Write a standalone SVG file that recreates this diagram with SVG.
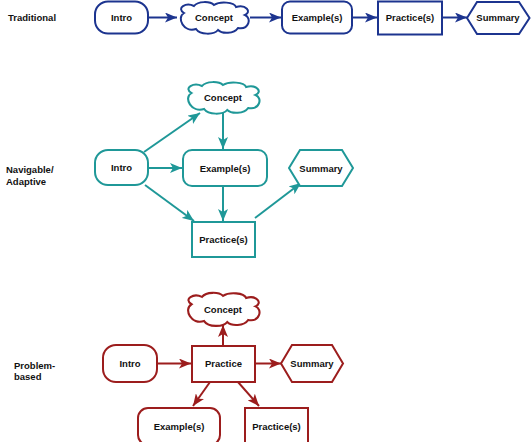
<svg xmlns="http://www.w3.org/2000/svg" width="531" height="442" viewBox="0 0 531 442">
<style>
text{font-family:"Liberation Sans",Arial,sans-serif;font-weight:bold;font-size:9.5px;fill:#111}
.c{text-anchor:middle}
.b{fill:#fff;stroke:#1c348f;stroke-width:2}
.t{fill:#fff;stroke:#1f9898;stroke-width:2}
.r{fill:#fff;stroke:#9c1d1d;stroke-width:2}
.lb{stroke:#1c348f;stroke-width:2;fill:none;marker-end:url(#ab)}
.lt{stroke:#1f9898;stroke-width:2;fill:none;marker-end:url(#at)}
.lr{stroke:#9c1d1d;stroke-width:2;fill:none;marker-end:url(#ar)}
</style>
<defs>
<marker id="ab" markerUnits="userSpaceOnUse" markerWidth="12" markerHeight="10" refX="12" refY="5" orient="auto"><path d="M0,0 L12,5 L0,10 L3,5 Z" fill="#1c348f"/></marker>
<marker id="at" markerUnits="userSpaceOnUse" markerWidth="12" markerHeight="10" refX="12" refY="5" orient="auto"><path d="M0,0 L12,5 L0,10 L3,5 Z" fill="#1f9898"/></marker>
<marker id="ar" markerUnits="userSpaceOnUse" markerWidth="12" markerHeight="10" refX="12" refY="5" orient="auto"><path d="M0,0 L12,5 L0,10 L3,5 Z" fill="#9c1d1d"/></marker>
<path id="cloud" d="M-30,-5 C-38,-10 -28,-16 -20,-12 C-16,-17 -4,-17 0,-13 C6,-17 20,-16 22,-11 C32,-14 38,-6 31,-3 C38,0 35,12 24,10 C20,16 8,16 4,12 C0,17 -14,17 -18,11 C-30,15 -38,0 -30,-5 Z"/>
</defs>

<g id="labels">
<text x="8" y="20.5">Traditional</text>
<text x="6" y="172.5">Navigable/</text>
<text x="6" y="184.5">Adaptive</text>
<text x="14" y="368.5">Problem-</text>
<text x="14" y="380">based</text>
</g>

<g id="connectors">
<line class="lb" x1="148" y1="17.5" x2="177" y2="17.5"/>
<line class="lb" x1="250" y1="17.5" x2="281" y2="17.5"/>
<line class="lb" x1="352" y1="17.5" x2="377" y2="17.5"/>
<line class="lb" x1="442" y1="17.5" x2="467" y2="17.5"/>

<line class="lt" x1="144" y1="152" x2="200" y2="113"/>
<line class="lt" x1="223" y1="113" x2="223" y2="149"/>
<line class="lt" x1="148" y1="168" x2="182" y2="168"/>
<line class="lt" x1="145" y1="185" x2="194" y2="221"/>
<line class="lt" x1="223" y1="187" x2="223" y2="221"/>
<line class="lt" x1="255" y1="218" x2="301" y2="183"/>

<line class="lr" x1="223" y1="346" x2="223" y2="325"/>
<line class="lr" x1="157" y1="363.5" x2="191" y2="363.5"/>
<line class="lr" x1="255" y1="363.5" x2="281" y2="363.5"/>
<line class="lr" x1="210" y1="382" x2="193" y2="406"/>
<line class="lr" x1="238" y1="382" x2="259" y2="406"/>
</g>

<g id="trad-intro"><rect class="b" x="95" y="1.5" width="53" height="32" rx="13"/><text class="c" x="121.5" y="21">Intro</text></g>
<g id="trad-concept"><use href="#cloud" class="b" transform="translate(214,18)"/><text class="c" x="214" y="21">Concept</text></g>
<g id="trad-examples"><rect class="b" x="282" y="1.5" width="70" height="32" rx="8"/><text class="c" x="317" y="21">Example(s)</text></g>
<g id="trad-practices"><rect class="b" x="378" y="1.5" width="64" height="33"/><text class="c" x="410" y="21">Practice(s)</text></g>
<g id="trad-summary"><polygon class="b" points="467,18 477,2 519,2 529.5,18 519,34 477,34"/><text class="c" x="498" y="21">Summary</text></g>

<g id="nav-concept"><use href="#cloud" class="t" transform="translate(223,98) scale(1.05,1)"/><text class="c" x="223" y="101">Concept</text></g>
<g id="nav-intro"><rect class="t" x="95" y="150" width="53" height="35" rx="13"/><text class="c" x="121.5" y="171">Intro</text></g>
<g id="nav-examples"><rect class="t" x="183" y="150" width="84" height="36" rx="9"/><text class="c" x="225" y="171.5">Example(s)</text></g>
<g id="nav-practices"><rect class="t" x="192" y="222" width="63" height="35"/><text class="c" x="223.5" y="243">Practice(s)</text></g>
<g id="nav-summary"><polygon class="t" points="289,168 300,150 342,150 353,168 342,186 300,186"/><text class="c" x="321" y="171.5">Summary</text></g>

<g id="pb-concept"><use href="#cloud" class="r" transform="translate(223,309.5) scale(1.05,1.05)"/><text class="c" x="223" y="313">Concept</text></g>
<g id="pb-intro"><rect class="r" x="103" y="345" width="54" height="37" rx="13"/><text class="c" x="130" y="367">Intro</text></g>
<g id="pb-practice"><rect class="r" x="192" y="346" width="63" height="36"/><text class="c" x="223.5" y="367">Practice</text></g>
<g id="pb-summary"><polygon class="r" points="281,363.5 292,345 332,345 343,363.5 332,382 292,382"/><text class="c" x="312" y="367">Summary</text></g>
<g id="pb-examples"><rect class="r" x="138" y="408" width="82" height="37" rx="10"/><text class="c" x="179" y="430">Example(s)</text></g>
<g id="pb-practices"><rect class="r" x="245" y="408" width="63" height="37"/><text class="c" x="276.5" y="430">Practice(s)</text></g>
</svg>
